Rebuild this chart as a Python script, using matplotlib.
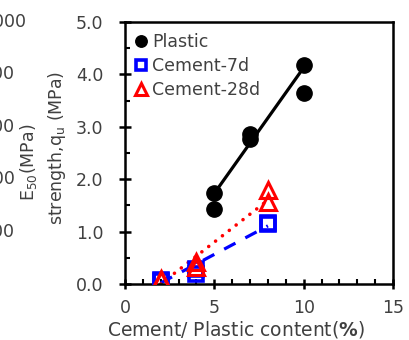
import numpy as np
import matplotlib.pyplot as plt
from matplotlib.transforms import blended_transform_factory
from matplotlib.ticker import MultipleLocator, FormatStrFormatter

plt.rcParams['font.family'] = ['DejaVu Sans', 'Noto Sans CJK SC']
txt = '#404040'

# measured points (content %, strength MPa)
plastic_x = [5, 5, 7, 7, 10, 10]
plastic_y = [1.74, 1.43, 2.86, 2.76, 4.18, 3.64]
c7_x = [2, 2, 4, 4, 8, 8]
c7_y = [0.08, 0.06, 0.28, 0.20, 1.17, 1.14]
c28_x = [2, 2, 4, 4, 8, 8]
c28_y = [0.10, 0.08, 0.42, 0.32, 1.79, 1.57]

# trend lines (end points)
plastic_fit_x = [5, 10]
plastic_fit_y = [1.73, 4.13]
c7_fit_x = [2, 8]
c7_fit_y = [0.02, 1.11]
c28_fit_x = [2, 8]
c28_fit_y = [0.0, 1.60]

# E50 axis labels of the neighbouring panel
e50_ticks = [1, 2, 3, 4, 5]
e50_labels = ['200', '400', '600', '800', '1000']

fig = plt.figure(figsize=(4.09, 3.40), dpi=100)
ax = fig.add_axes([125/409, 1-284/340, 268/409, 262/340])

ax.plot(plastic_fit_x, plastic_fit_y, color='black', lw=2.3, zorder=2)
ax.plot(c7_fit_x, c7_fit_y, color='blue', lw=2.3, ls=(0, (4, 3.5)), zorder=2)
ax.plot(c28_fit_x, c28_fit_y, color='red', lw=2.6, ls=(0, (0.01, 2.4)),
        dash_capstyle='round', zorder=2)

ax.plot(plastic_x, plastic_y, 'o', color='black', ms=11, ls='none', label='Plastic', zorder=3)
ax.plot(c7_x, c7_y, 's', mfc='none', mec='blue', mew=2.6, ms=9.5, ls='none',
        label='Cement-7d', zorder=3)
ax.plot(c28_x, c28_y, '^', mfc='none', mec='red', mew=2.2, ms=11, ls='none',
        label='Cement-28d', zorder=3)

ax.set_xlim(0, 15)
ax.set_ylim(0, 5)
ax.xaxis.set_major_locator(MultipleLocator(5))
ax.xaxis.set_minor_locator(MultipleLocator(1))
ax.yaxis.set_major_locator(MultipleLocator(1))
ax.yaxis.set_minor_locator(MultipleLocator(0.5))
ax.yaxis.set_major_formatter(FormatStrFormatter('%.1f'))

for s in ax.spines.values():
    s.set_linewidth(1.8)
ax.tick_params(which='major', direction='inout', width=1.8, labelsize=12.5,
               labelcolor=txt)
ax.tick_params(axis='y', which='major', length=9, pad=11)
ax.tick_params(axis='x', which='major', length=7.5, pad=7)
ax.tick_params(which='minor', direction='in', length=3.5, width=1.5)

leg = ax.legend(loc='upper left', frameon=False, fontsize=12.5, markerscale=0.75,
                handlelength=0.6, handletextpad=0.3, labelspacing=0.35,
                borderaxespad=0.4, borderpad=0.25)
for t in leg.get_texts():
    t.set_color(txt)

fig.text(57/409, 1-148/340, 'strength,q$_\\mathrm{u}$ (MPa)', rotation=90, ha='center',
         va='center', fontsize=12.5, color=txt)
fig.text(29/409, 1-162/340, 'E$_{50}$(MPa)', rotation=90, ha='center',
         va='center', fontsize=12.5, color=txt)
fig.text(236/409, 1-335/340, 'Cement/ Plastic content($\\mathbf{\\%}$)', ha='center',
         va='baseline', fontsize=13.5, color=txt)

trans = blended_transform_factory(fig.transFigure, ax.transData)
for v, lab in zip(e50_ticks, e50_labels):
    ax.text(-18/409, v, lab, transform=trans, ha='left', va='center',
            fontsize=12.5, color=txt)

fig.savefig('out.png', dpi=100)
